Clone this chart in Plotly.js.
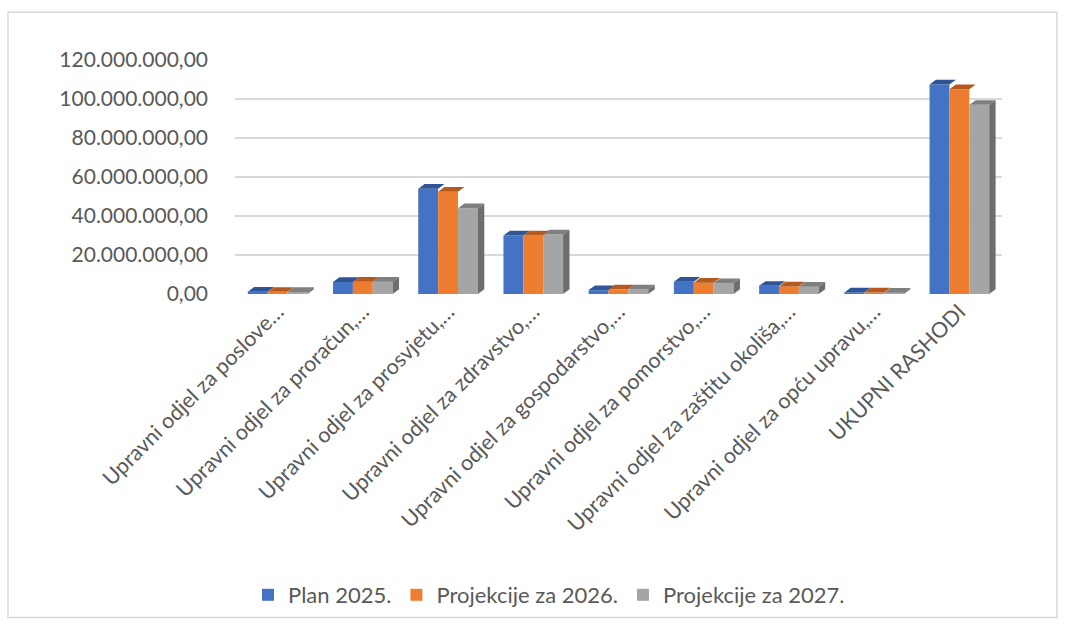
<!DOCTYPE html>
<html><head><meta charset="utf-8">
<script src="https://cdn.plot.ly/plotly-3.0.1.min.js"></script>
<style>body{margin:0;background:#fff}#c{width:1066px;height:625px}</style>
</head><body><div id="c"></div>
<script>
const categories = [
  "Upravni odjel za poslove…",
  "Upravni odjel za proračun,…",
  "Upravni odjel za prosvjetu,…",
  "Upravni odjel za zdravstvo,…",
  "Upravni odjel za gospodarstvo,…",
  "Upravni odjel za pomorstvo,…",
  "Upravni odjel za zaštitu okoliša,…",
  "Upravni odjel za opću upravu,…",
  "UKUPNI RASHODI"
];
const plan2025 = [1200000, 6200000, 54000000, 30000000, 2000000, 6300000, 4200000, 800000, 107500000];
const proj2026 = [1100000, 6300000, 52500000, 30000000, 2400000, 5800000, 3900000, 750000, 105000000];
const proj2027 = [1000000, 6300000, 44000000, 30500000, 2300000, 5600000, 3700000, 700000, 97000000];
const seriesNames = ["Plan 2025.", "Projekcije za 2026.", "Projekcije za 2027."];
const tickVals = [0, 20000000, 40000000, 60000000, 80000000, 100000000, 120000000];
const tickText = ["0,00", "20.000.000,00", "40.000.000,00", "60.000.000,00", "80.000.000,00", "100.000.000,00", "120.000.000,00"];

const colors = ["#4472C4", "#ED7D31", "#A5A5A5"];
const topColors = ["#2F5597", "#B5591F", "#7F7F7F"];
const sideColors = ["#2F5597", "#A8501C", "#6E6E6E"];
const allSeries = [plan2025, proj2026, proj2027];
const idx = categories.map((_, i) => i);

const bargap = 0.3;
const barW = (1 - bargap) / 3;
const dx = 0.075;
const dy = 2400000;

const traces = allSeries.map((s, k) => ({
  type: "bar", x: idx, y: s, name: seriesNames[k],
  marker: {color: colors[k]}, hoverinfo: "skip"
}));

const shapes = [];
allSeries.forEach((s, k) => {
  s.forEach((v, i) => {
    const x0 = i - (1 - bargap) / 2 + k * barW;
    const x1 = x0 + barW;
    shapes.push({type: "path", xref: "x", yref: "y", layer: "above", line: {width: 0},
      fillcolor: topColors[k],
      path: `M${x0},${v} L${x0 + dx},${v + dy} L${x1 + dx},${v + dy} L${x1},${v} Z`});
    if (k === 2) {
      shapes.push({type: "path", xref: "x", yref: "y", layer: "above", line: {width: 0},
        fillcolor: sideColors[k],
        path: `M${x1},0 L${x1 + dx},${dy} L${x1 + dx},${v + dy} L${x1},${v} Z`});
    }
  });
});

const L = 235, R = 64, T = 60, B = 330;
const PW = 1066 - L - R, PH = 625 - T - B;

const layout = {
  width: 1066, height: 625,
  paper_bgcolor: "#fff", plot_bgcolor: "#fff",
  margin: {l: L, r: R, t: T, b: B},
  barmode: "group", bargap: bargap, bargroupgap: 0,
  font: {family: "Lato, 'Open Sans', sans-serif", color: "#595959", size: 20},
  xaxis: {
    range: [-0.5, 8.5], tickvals: idx, ticktext: categories, tickangle: -45,
    showgrid: false, zeroline: false, showline: false, ticks: "",
    tickfont: {size: 21.5, color: "#595959"}
  },
  yaxis: {
    range: [0, 120000000], tickvals: tickVals, ticktext: tickText,
    showgrid: true, gridcolor: "#D9D9D9", gridwidth: 1.5, zeroline: false,
    showline: false, ticks: "", ticklabelstandoff: 26,
    tickfont: {size: 21, color: "#595959"}
  },
  legend: {orientation: "h", x: (549 - L) / PW, xanchor: "center", y: (T + PH - 595) / PH, yanchor: "middle",
    font: {size: 22, color: "#595959"}, traceorder: "normal", itemwidth: 30, tracegroupgap: 0},
  shapes: shapes.concat([{type: "rect", xref: "paper", yref: "paper",
    x0: (8 - L) / PW, x1: (1057 - L) / PW, y0: (T + PH - 620) / PH, y1: (T + PH - 12) / PH,
    line: {color: "#D9D9D9", width: 1.5}, layer: "below"}])
};
Plotly.newPlot("c", traces, layout, {displayModeBar: false, staticPlot: true});
</script></body></html>
